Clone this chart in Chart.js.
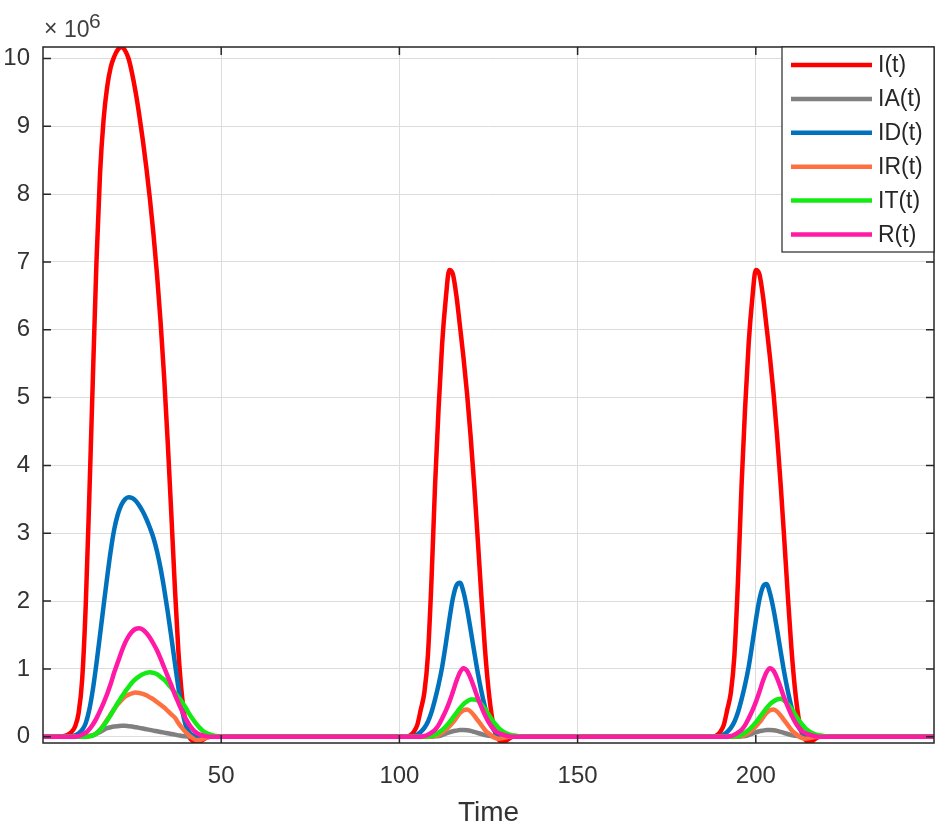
<!DOCTYPE html>
<html>
<head>
<meta charset="utf-8">
<script src="https://cdn.jsdelivr.net/npm/chart.js@4.4.1/dist/chart.umd.min.js"></script>
<style>
  html, body { margin: 0; padding: 0; background: #fff; }
</style>
</head>
<body>
<canvas id="line-chart" width="945" height="830"></canvas>
<script>
// time axis (days), dense inside the three waves
var time = [0, 2,
    4, 5, 6, 7, 8, 9, 10, 11, 12, 13, 14, 15, 16, 17, 18, 19, 20, 21, 22, 23, 24, 25, 26, 27, 28,
    29, 30, 31, 32, 33, 34, 35, 36, 37, 38, 39, 40, 41, 42, 43, 44, 45, 46, 47, 48, 49, 50, 51, 52,
    60, 75, 90,
    100, 101, 102, 103, 104, 105, 106, 107, 108, 109, 110, 111, 112, 113, 114, 115, 116, 117, 118,
    119, 120, 121, 122, 123, 124, 125, 126, 127, 128, 129, 130, 131, 132, 133, 134, 135, 136,
    145, 160, 175,
    186, 187, 188, 189, 190, 191, 192, 193, 194, 195, 196, 197, 198, 199, 200, 201, 202, 203, 204,
    205, 206, 207, 208, 209, 210, 211, 212, 213, 214, 215, 216, 217, 218, 219, 220, 221, 222,
    230, 240, 250];

// values in millions (axis shows x10^6)
var I = [0, 0,
    0, 0, 0.01, 0.03, 0.07, 0.15, 0.35, 0.85, 1.95, 3.55,
    5.3, 7.0, 8.3, 9.1, 9.58, 9.87, 10.03, 10.13, 10.17, 10.12,
    10.0, 9.78, 9.5, 9.17, 8.8, 8.39, 7.93, 7.41, 6.81, 6.11,
    5.29, 4.34, 3.29, 2.2, 1.25, 0.6, 0.2, 0, -0.06, -0.09,
    -0.08, -0.04, -0.01, 0, 0, 0, 0, 0, 0,
    0, 0, 0,
    0, 0, 0, 0.02, 0.07, 0.17, 0.4, 0.65, 1.2, 2.3,
    3.7, 4.85, 5.8, 6.45, 6.88, 6.82, 6.5, 6.05, 5.58, 5.05,
    4.42, 3.7, 2.9, 2.07, 1.3, 0.7, 0.28, 0.04, -0.05, -0.08,
    -0.06, -0.02, 0, 0, 0, 0, 0,
    0, 0, 0,
    0, 0, 0, 0.02, 0.07, 0.17, 0.4, 0.65, 1.2, 2.3,
    3.7, 4.85, 5.8, 6.45, 6.88, 6.82, 6.5, 6.05, 5.58, 5.05,
    4.42, 3.7, 2.9, 2.07, 1.3, 0.7, 0.28, 0.04, -0.05, -0.08,
    -0.06, -0.02, 0, 0, 0, 0, 0,
    0, 0, 0];

var IA = [0, 0,
    0, 0, 0, 0, 0, 0, 0, 0, 0.005, 0.01,
    0.02, 0.04, 0.07, 0.1, 0.125, 0.14, 0.15, 0.155, 0.16, 0.16,
    0.155, 0.15, 0.14, 0.13, 0.12, 0.11, 0.1, 0.09, 0.08, 0.07,
    0.06, 0.05, 0.04, 0.03, 0.02, 0.01, 0.005, 0, -0.005, -0.01,
    -0.01, -0.005, 0, 0, 0, 0, 0, 0, 0,
    0, 0, 0,
    0, 0, 0, 0, 0, 0, 0, 0, 0, 0,
    0.005, 0.01, 0.025, 0.045, 0.065, 0.08, 0.09, 0.1, 0.1, 0.095,
    0.085, 0.07, 0.055, 0.04, 0.025, 0.015, 0.005, 0, -0.005, -0.005,
    0, 0, 0, 0, 0, 0, 0,
    0, 0, 0,
    0, 0, 0, 0, 0, 0, 0, 0, 0, 0,
    0.005, 0.01, 0.025, 0.045, 0.065, 0.08, 0.09, 0.1, 0.1, 0.095,
    0.085, 0.07, 0.055, 0.04, 0.025, 0.015, 0.005, 0, -0.005, -0.005,
    0, 0, 0, 0, 0, 0, 0,
    0, 0, 0];

var ID = [0, 0,
    0, 0, 0, 0.005, 0.01, 0.02, 0.05, 0.1, 0.2, 0.4,
    0.7, 1.08, 1.5, 1.93, 2.35, 2.74, 3.06, 3.28, 3.42, 3.5,
    3.53, 3.52, 3.48, 3.41, 3.32, 3.21, 3.08, 2.93, 2.73, 2.48,
    2.18, 1.84, 1.47, 1.09, 0.72, 0.4, 0.18, 0.07, 0.02, 0,
    0, 0, 0, 0, 0, 0, 0, 0, 0,
    0, 0, 0,
    0, 0, 0, 0, 0.01, 0.03, 0.07, 0.13, 0.22, 0.36,
    0.55, 0.77, 1.03, 1.36, 1.72, 2.04, 2.23, 2.27, 2.13, 1.88,
    1.57, 1.25, 0.94, 0.67, 0.44, 0.26, 0.14, 0.07, 0.03, 0.01,
    0, 0, 0, 0, 0, 0, 0,
    0, 0, 0,
    0, 0, 0, 0, 0.01, 0.03, 0.07, 0.13, 0.22, 0.36,
    0.55, 0.77, 1.03, 1.36, 1.71, 2.02, 2.21, 2.25, 2.11, 1.87,
    1.57, 1.25, 0.94, 0.67, 0.44, 0.26, 0.14, 0.07, 0.03, 0.01,
    0, 0, 0, 0, 0, 0, 0,
    0, 0, 0];

var IR = [0, 0,
    0, 0, 0, 0, 0, 0, 0, 0, 0, 0.01,
    0.02, 0.05, 0.1, 0.17, 0.25, 0.33, 0.41, 0.48, 0.54, 0.59,
    0.62, 0.64, 0.65, 0.645, 0.63, 0.61, 0.58, 0.55, 0.51, 0.47,
    0.43, 0.38, 0.33, 0.28, 0.2, 0.13, 0.07, 0.02, -0.02, -0.05,
    -0.05, -0.03, -0.01, 0, 0, 0, 0, 0, 0,
    0, 0, 0,
    0, 0, 0, 0, 0, 0, 0, 0, 0, 0.005,
    0.01, 0.03, 0.06, 0.1, 0.15, 0.21, 0.28, 0.35, 0.39, 0.4,
    0.37, 0.31, 0.24, 0.17, 0.1, 0.05, 0.01, -0.02, -0.03, -0.02,
    -0.01, 0, 0, 0, 0, 0, 0,
    0, 0, 0,
    0, 0, 0, 0, 0, 0, 0, 0, 0, 0.005,
    0.01, 0.03, 0.06, 0.1, 0.15, 0.21, 0.28, 0.35, 0.39, 0.4,
    0.37, 0.31, 0.24, 0.17, 0.1, 0.05, 0.01, -0.02, -0.03, -0.02,
    -0.01, 0, 0, 0, 0, 0, 0,
    0, 0, 0];

var IT = [0, 0,
    0, 0, 0, 0, 0, 0, 0, 0, 0, 0.005,
    0.02, 0.05, 0.1, 0.16, 0.24, 0.32, 0.41, 0.5, 0.58, 0.66,
    0.73, 0.8, 0.85, 0.89, 0.92, 0.94, 0.95, 0.94, 0.92, 0.88,
    0.84, 0.78, 0.72, 0.65, 0.58, 0.51, 0.43, 0.34, 0.26, 0.19,
    0.13, 0.08, 0.05, 0.03, 0.015, 0.008, 0.003, 0, 0,
    0, 0, 0,
    0, 0, 0, 0, 0, 0, 0, 0, 0.005, 0.01,
    0.03, 0.06, 0.1, 0.15, 0.21, 0.28, 0.35, 0.42, 0.48, 0.52,
    0.55, 0.55, 0.53, 0.48, 0.41, 0.33, 0.25, 0.18, 0.12, 0.08,
    0.05, 0.03, 0.02, 0.01, 0.005, 0, 0,
    0, 0, 0,
    0, 0, 0, 0, 0, 0, 0, 0, 0.005, 0.01,
    0.03, 0.06, 0.1, 0.15, 0.21, 0.28, 0.35, 0.42, 0.48, 0.52,
    0.55, 0.56, 0.53, 0.48, 0.41, 0.33, 0.25, 0.18, 0.12, 0.08,
    0.05, 0.03, 0.02, 0.01, 0.005, 0, 0,
    0, 0, 0];

var R = [0, 0,
    0, 0, 0, 0, 0, 0, 0.01, 0.03, 0.06, 0.11,
    0.18, 0.27, 0.38, 0.5, 0.63, 0.78, 0.95, 1.1, 1.25, 1.38,
    1.48, 1.55, 1.59, 1.6, 1.58, 1.53, 1.46, 1.37, 1.27, 1.15,
    1.02, 0.89, 0.76, 0.62, 0.5, 0.38, 0.27, 0.18, 0.11, 0.06,
    0.03, 0.015, 0.005, 0, 0, 0, 0, 0, 0,
    0, 0, 0,
    0, 0, 0, 0, 0, 0, 0, 0.01, 0.03, 0.06,
    0.1, 0.17, 0.27, 0.38, 0.51, 0.66, 0.82, 0.95, 1.01, 0.97,
    0.86, 0.72, 0.57, 0.44, 0.32, 0.22, 0.14, 0.08, 0.05, 0.03,
    0.015, 0.005, 0, 0, 0, 0, 0,
    0, 0, 0,
    0, 0, 0, 0, 0, 0, 0, 0.01, 0.03, 0.06,
    0.1, 0.17, 0.27, 0.38, 0.51, 0.66, 0.82, 0.95, 1.01, 0.97,
    0.86, 0.72, 0.57, 0.44, 0.32, 0.22, 0.14, 0.08, 0.05, 0.03,
    0.015, 0.005, 0, 0, 0, 0, 0,
    0, 0, 0];

var seriesNames = ['I(t)', 'IA(t)', 'ID(t)', 'IR(t)', 'IT(t)', 'R(t)'];
var seriesData = [I, IA, ID, IR, IT, R];
var seriesColors = ['#ff0000', '#808080', '#0072bd', 'rgb(255,112,64)', 'rgb(20,235,20)', 'rgb(255,25,165)'];

var xTicks = [50, 100, 150, 200];
var yTicks = [0, 1, 2, 3, 4, 5, 6, 7, 8, 9, 10];

var fontFamily = '"Liberation Sans", Arial, Helvetica, sans-serif';
var axisColor = '#262626';

var datasets = seriesData.map(function (vals, i) {
    return {
        label: seriesNames[i],
        data: time.map(function (t, k) { return { x: t, y: vals[k] }; }),
        borderColor: seriesColors[i],
        borderWidth: 4.5,
        pointRadius: 0,
        cubicInterpolationMode: 'monotone',
        borderJoinStyle: 'round',
        borderCapStyle: 'round',
        fill: false,
        // later series on top, like matlab
        order: seriesData.length - 1 - i
    };
});

// box, inward ticks and the x10^6 label
var matlabFrame = {
    id: 'matlabFrame',
    afterDatasetsDraw: function (chart) {
        var ctx = chart.ctx, a = chart.chartArea;
        var xs = chart.scales.x, ys = chart.scales.y;
        ctx.save();
        ctx.strokeStyle = axisColor;
        ctx.lineWidth = 1.5;
        ctx.beginPath();
        xTicks.forEach(function (v) {
            var px = xs.getPixelForValue(v);
            ctx.moveTo(px, a.bottom); ctx.lineTo(px, a.bottom - 8);
            ctx.moveTo(px, a.top); ctx.lineTo(px, a.top + 8);
        });
        yTicks.forEach(function (v) {
            var py = ys.getPixelForValue(v);
            ctx.moveTo(a.left, py); ctx.lineTo(a.left + 8, py);
            ctx.moveTo(a.right, py); ctx.lineTo(a.right - 8, py);
        });
        ctx.stroke();
        ctx.strokeRect(a.left, a.top, a.right - a.left, a.bottom - a.top);

        ctx.fillStyle = '#404040';
        ctx.textBaseline = 'alphabetic';
        ctx.textAlign = 'left';
        ctx.font = '23px ' + fontFamily;
        ctx.fillText('\u00d7', a.left + 1, a.top - 11);
        ctx.fillText('10', a.left + 21, a.top - 10);
        ctx.font = '21px ' + fontFamily;
        ctx.fillText('6', a.left + 46, a.top - 19);
        ctx.restore();
    },
    afterDraw: function (chart) {
        // legend box in the top right corner of the axes
        var ctx = chart.ctx, a = chart.chartArea;
        var w = 152, h = 205;
        var left = a.right - w, top = a.top;
        ctx.save();
        ctx.fillStyle = '#fff';
        ctx.fillRect(left, top, w, h);
        ctx.strokeStyle = axisColor;
        ctx.lineWidth = 1.2;
        ctx.strokeRect(left, top, w, h);
        ctx.font = '23px ' + fontFamily;
        ctx.textBaseline = 'middle';
        ctx.textAlign = 'left';
        seriesNames.forEach(function (name, i) {
            var yy = top + 18 + i * 33.9;
            ctx.strokeStyle = seriesColors[i];
            ctx.lineWidth = 4.5;
            ctx.beginPath();
            ctx.moveTo(left + 9, yy);
            ctx.lineTo(left + 90, yy);
            ctx.stroke();
            ctx.fillStyle = '#262626';
            ctx.fillText(name, left + 96, yy + 1);
        });
        ctx.restore();
    }
};

var chart = new Chart(document.getElementById('line-chart'), {
    type: 'line',
    data: { datasets: datasets },
    plugins: [matlabFrame],
    options: {
        responsive: false,
        animation: false,
        layout: { padding: { top: 47, right: 11, left: 0, bottom: 0 } },
        plugins: {
            legend: { display: false },
            tooltip: { enabled: false }
        },
        scales: {
            x: {
                type: 'linear',
                min: 0,
                max: 250,
                afterBuildTicks: function (s) { s.ticks = xTicks.map(function (v) { return { value: v }; }); },
                afterFit: function (s) { s.height = 87; },
                grid: { color: '#dcdcdc', lineWidth: 1, drawTicks: false },
                border: { display: false },
                ticks: {
                    font: { family: fontFamily, size: 24 },
                    color: '#333',
                    padding: 19,
                    maxRotation: 0
                },
                title: {
                    display: true,
                    text: 'Time',
                    font: { family: fontFamily, size: 28 },
                    color: '#333',
                    padding: { top: 0, bottom: 0 }
                }
            },
            y: {
                min: -0.093,
                max: 10.17,
                afterBuildTicks: function (s) { s.ticks = yTicks.map(function (v) { return { value: v }; }); },
                afterFit: function (s) { s.width = 43; },
                grid: { color: '#dcdcdc', lineWidth: 1, drawTicks: false },
                border: { display: false },
                ticks: {
                    font: { family: fontFamily, size: 24 },
                    color: '#333',
                    padding: 13
                }
            }
        }
    }
});
</script>
</body>
</html>
